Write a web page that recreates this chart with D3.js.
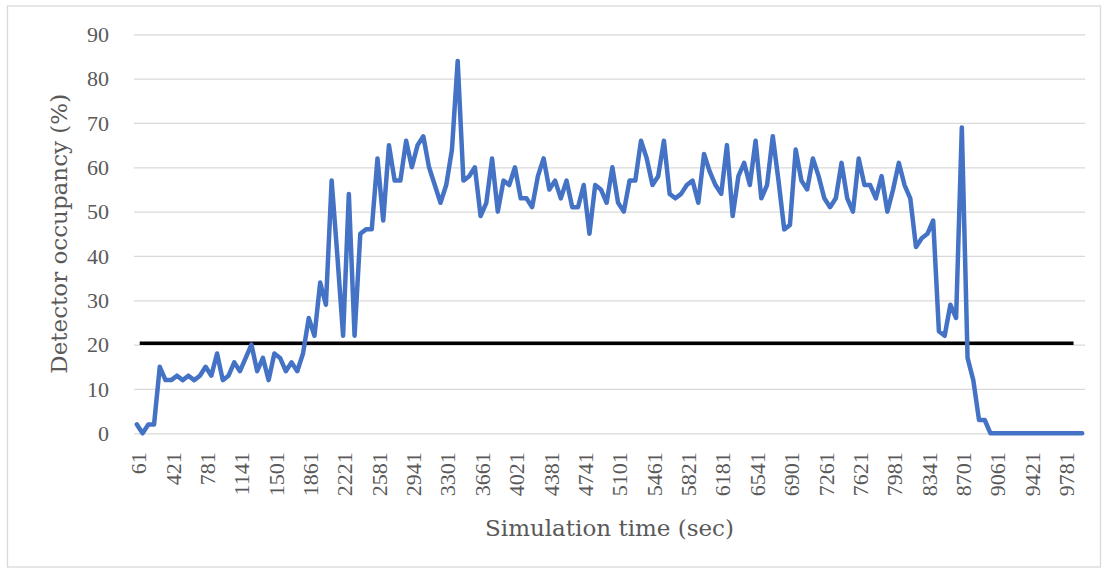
<!DOCTYPE html>
<html>
<head>
<meta charset="utf-8">
<script src="https://cdn.jsdelivr.net/npm/d3@7"></script>
<style>
  html, body { margin: 0; padding: 0; background: #fff; }
  svg { display: block; }
</style>
</head>
<body>
<svg id="chart" width="1108" height="571"></svg>
<script>
// Simulation time categories (sec)
const categories = [61,121,181,241,301,361,421,481,541,601,661,721,781,841,901,961,1021,1081,1141,1201,1261,1321,1381,1441,1501,1561,1621,1681,1741,1801,1861,1921,1981,2041,2101,2161,2221,2281,2341,2401,2461,2521,2581,2641,2701,2761,2821,2881,2941,3001,3061,3121,3181,3241,3301,3361,3421,3481,3541,3601,3661,3721,3781,3841,3901,3961,4021,4081,4141,4201,4261,4321,4381,4441,4501,4561,4621,4681,4741,4801,4861,4921,4981,5041,5101,5161,5221,5281,5341,5401,5461,5521,5581,5641,5701,5761,5821,5881,5941,6001,6061,6121,6181,6241,6301,6361,6421,6481,6541,6601,6661,6721,6781,6841,6901,6961,7021,7081,7141,7201,7261,7321,7381,7441,7501,7561,7621,7681,7741,7801,7861,7921,7981,8041,8101,8161,8221,8281,8341,8401,8461,8521,8581,8641,8701,8761,8821,8881,8941,9001,9061,9121,9181,9241,9301,9361,9421,9481,9541,9601,9661,9721,9781,9841,9901,9961];

// Detector occupancy (%)
const occupancy = [2,0,2,2,15,12,12,13,12,13,12,13,15,13,18,12,13,16,14,17,20,14,17,12,18,17,14,16,14,18,26,22,34,29,57,40,22,54,22,45,46,46,62,48,65,57,57,66,60,65,67,60,56,52,56,64,84,57,58,60,49,52,62,50,57,56,60,53,53,51,58,62,55,57,53,57,51,51,56,45,56,55,52,60,52,50,57,57,66,62,56,58,66,54,53,54,56,57,52,63,59,56,54,65,49,58,61,56,66,53,56,67,57,46,47,64,57,55,62,58,53,51,53,61,53,50,62,56,56,53,58,50,55,61,56,53,42,44,45,48,23,22,29,26,69,17,12,3,3,0,0,0,0,0,0,0,0,0,0,0,0,0,0,0,0,0];

// Threshold line
const thresholdValue = 20.3;
const thresholdFrom = 121;
const thresholdTo = 9901;

// Axis ticks
const xTickLabels = [61,421,781,1141,1501,1861,2221,2581,2941,3301,3661,4021,4381,4741,5101,5461,5821,6181,6541,6901,7261,7621,7981,8341,8701,9061,9421,9781];
const yTicks = [0,10,20,30,40,50,60,70,80,90];

const xTitle = "Simulation time (sec)";
const yTitle = "Detector occupancy (%)";

const svg = d3.select("#chart");
const plot = { left: 134, right: 1085, top: 34.3, bottom: 433.3 };

// outer border
svg.append("rect")
  .attr("x", 7.5).attr("y", 6).attr("width", 1093).attr("height", 561)
  .attr("fill", "#fff").attr("stroke", "#d9d9d9").attr("stroke-width", 1.3);

const x = d3.scaleBand().domain(categories).range([plot.left, plot.right]);
const xc = d => x(d) + x.bandwidth() / 2;
const y = d3.scaleLinear().domain([0, 90]).range([plot.bottom, plot.top]);

// gridlines + y labels
const yAxis = d3.axisLeft(y).tickValues(yTicks).tickSize(-(plot.right - plot.left)).tickPadding(25);
const gy = svg.append("g").attr("transform", `translate(${plot.left},0)`).call(yAxis);
gy.select(".domain").remove();
gy.selectAll(".tick line").attr("stroke", "#d9d9d9").attr("stroke-width", 1.3);
gy.selectAll(".tick text")
  .attr("font-family", "'Liberation Serif', serif")
  .attr("font-size", 22)
  .attr("fill", "#595959");

// x labels
const xAxis = d3.axisBottom(x).tickValues(xTickLabels).tickSize(0).tickPadding(0);
const gx = svg.append("g").attr("transform", `translate(0,${plot.bottom})`).call(xAxis);
gx.select(".domain").remove();
gx.selectAll(".tick text")
  .attr("font-family", "'Liberation Serif', serif")
  .attr("font-size", 22)
  .attr("fill", "#595959")
  .attr("text-anchor", "end")
  .attr("transform", "translate(2,19) rotate(-90)")
  .attr("x", 0).attr("y", 0).attr("dy", "0.33em");

// threshold
svg.append("line")
  .attr("x1", x(thresholdFrom)).attr("x2", x(thresholdTo))
  .attr("y1", y(thresholdValue)).attr("y2", y(thresholdValue))
  .attr("stroke", "#000").attr("stroke-width", 3.5);

// data line
const line = d3.line().x((d, i) => xc(categories[i])).y(d => y(d));
svg.append("path")
  .datum(occupancy)
  .attr("d", line)
  .attr("fill", "none")
  .attr("stroke", "#4472C4")
  .attr("stroke-width", 4.5)
  .attr("stroke-linejoin", "round")
  .attr("stroke-linecap", "round");

// titles
svg.append("text")
  .attr("x", (plot.left + plot.right) / 2).attr("y", 536)
  .attr("text-anchor", "middle")
  .attr("font-family", "'DejaVu Serif', serif")
  .attr("font-size", 23)
  .attr("fill", "#595959")
  .text(xTitle);

svg.append("text")
  .attr("transform", `translate(67,${(plot.top + plot.bottom) / 2}) rotate(-90)`)
  .attr("text-anchor", "middle")
  .attr("font-family", "'DejaVu Serif', serif")
  .attr("font-size", 23)
  .attr("fill", "#595959")
  .text(yTitle);
</script>
</body>
</html>
